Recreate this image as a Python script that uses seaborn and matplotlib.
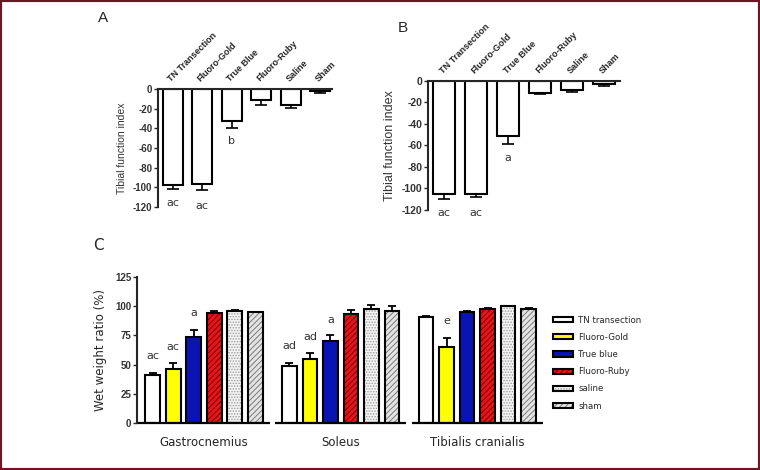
import numpy as np
import pandas as pd
import matplotlib
matplotlib.use("Agg")
import matplotlib.pyplot as plt
from matplotlib.patches import Rectangle, Patch
import seaborn as sns

# panels A and B: tibial function index
groups_ab = ["TN Transection", "Fluoro-Gold", "True Blue", "Fluoro-Ruby", "Saline", "Sham"]
tfi_a = [-98, -97, -33, -11, -16, -2]
tfi_a_err = [4, 6, 7, 5, 3, 2]
letters_a = ["ac", "ac", "b", "", "", ""]
letters_a_y = [-116, -119, -53, 0, 0, 0]

tfi_b = [-105, -105, -51, -11, -8, -3]
tfi_b_err = [5, 3, 8, 1, 2, 2]
letters_b = ["ac", "ac", "a", "", "", ""]
letters_b_y = [-123, -123, -72, 0, 0, 0]

# panel C: wet weight ratio
muscles = ["Gastrocnemius", "Soleus", "Tibialis cranialis"]
groups_c = ["TN transection", "Fluoro-Gold", "True blue", "Fluoro-Ruby", "saline", "sham"]
ratio_gastro = [41.5, 46.5, 74, 94.5, 95.5, 94.7]
ratio_gastro_err = [1, 4.5, 5.5, 1.3, 1.2, 0.5]
ratio_soleus = [49, 54.5, 70.5, 93.5, 97.5, 95.5]
ratio_soleus_err = [2, 5.5, 5, 3, 3.8, 4.3]
ratio_tibialis = [90.4, 64.7, 95, 97.6, 99.9, 97.9]
ratio_tibialis_err = [1.4, 8, 0.7, 0.5, 0.6, 0.8]
letters_c = [["ac", "ac", "a", "", "", ""],
             ["ad", "ad", "a", "", "", ""],
             ["", "e", "", "", "", ""]]
letters_c_y = [[57.5, 65, 94.5, 0, 0, 0],
               [66, 74, 88.5, 0, 0, 0],
               [0, 87.5, 0, 0, 0, 0]]

colors_c = ["white", "#ffff00", "#0a14b4", "#e8141b", "#f4f4f4", "#e4e4e4"]
hatches_c = [None, None, None, "//////", "......", "//////"]
hatch_colors_c = [None, None, None, "#7a0000", "#9a9a9a", "#7a7a7a"]

sns.set_theme(style="ticks")
plt.rcParams["font.family"] = ["Liberation Sans", "DejaVu Sans"]
plt.rcParams["hatch.linewidth"] = 0.7
plt.rcParams["axes.unicode_minus"] = False

fig = plt.figure(figsize=(7.6, 4.7), dpi=100)


def tfi_panel(ax, vals, errs, letters, letters_y, width, lab_size, tick_size, ylab_size):
    df = pd.DataFrame({"group": groups_ab, "tfi": vals})
    sns.barplot(data=df, x="group", y="tfi", color="white", edgecolor="black",
                linewidth=1.5, width=width, errorbar=None, ax=ax, saturation=1)
    xs = [p.get_x() + p.get_width() / 2 for p in ax.patches]
    ax.errorbar(xs, vals, yerr=[errs, [0] * len(errs)], fmt="none", ecolor="black",
                elinewidth=1.2, capsize=4, capthick=1.2)
    for x, t, y in zip(xs, letters, letters_y):
        if t:
            ax.text(x, y, t, ha="center", va="center", fontsize=8, family="DejaVu Sans",
                    color="#333333")
    ax.set_ylim(-120, 0)
    ax.set_yticks(np.arange(-120, 1, 20))
    ax.xaxis.tick_top()
    ax.tick_params(axis="x", length=0, pad=4)
    ax.tick_params(axis="y", length=3, width=1, labelsize=tick_size, pad=1)
    for lab in ax.get_yticklabels():
        lab.set_fontweight("bold")
        lab.set_color("#333333")
    ax.set_xticks(range(len(groups_ab)))
    ax.set_xticklabels(groups_ab, rotation=45, ha="left", rotation_mode="anchor",
                       fontsize=lab_size, fontweight="bold")
    ax.set_xlabel("")
    ax.set_ylabel("Tibial function index", fontsize=ylab_size, color="#333333", labelpad=4)
    for s in ["right", "bottom"]:
        ax.spines[s].set_visible(False)
    ax.spines["left"].set_linewidth(1.5)
    ax.spines["top"].set_linewidth(1.5)


ax_a = fig.add_axes([0.2079, 0.5596, 0.229, 0.251])
tfi_panel(ax_a, tfi_a, tfi_a_err, letters_a, letters_a_y, 0.68, 6.5, 7, 7.5)
ax_a.set_xlim(-0.5, 5.4)

ax_b = fig.add_axes([0.5632, 0.5532, 0.2526, 0.2745])
tfi_panel(ax_b, tfi_b, tfi_b_err, letters_b, letters_b_y, 0.69, 6.6, 7.5, 9)
ax_b.set_xlim(-0.5, 5.5)

# panel C
ax_c = fig.add_axes([0.1803, 0.1, 0.5395, 0.3106])
ratio_all = [ratio_gastro, ratio_soleus, ratio_tibialis]
err_all = [ratio_gastro_err, ratio_soleus_err, ratio_tibialis_err]
rows = []
for m, vals in zip(muscles, ratio_all):
    for g, v in zip(groups_c, vals):
        rows.append({"muscle": m, "group": g, "ratio": v})
df_c = pd.DataFrame(rows)
sns.barplot(data=df_c, x="muscle", y="ratio", hue="group", hue_order=groups_c,
            palette=colors_c, width=0.9, gap=0.28, edgecolor="black", linewidth=1.5,
            errorbar=None, legend=False, saturation=1, ax=ax_c)

bars = sorted([p for p in ax_c.patches if p.get_height() > 0], key=lambda p: p.get_x())
for i, p in enumerate(bars):
    k = i % 6
    if hatches_c[k]:
        p.set_hatch(hatches_c[k])
        p.set_edgecolor(hatch_colors_c[k])
        p.set_linewidth(0)
        ax_c.add_patch(Rectangle((p.get_x(), 0), p.get_width(), p.get_height(),
                                 fill=False, edgecolor="black", linewidth=1.5, zorder=p.get_zorder() + 0.1))
bx = np.array([p.get_x() + p.get_width() / 2 for p in bars])
vals_flat = np.concatenate(ratio_all)
errs_flat = np.concatenate(err_all)
ax_c.errorbar(bx, vals_flat, yerr=[np.zeros_like(errs_flat), errs_flat], fmt="none",
              ecolor="black", elinewidth=1.3, capsize=3, capthick=1.3)
for i, (t, y) in enumerate(zip(sum(letters_c, []), sum(letters_c_y, []))):
    if t:
        ax_c.text(bx[i], y, t, ha="center", va="center", fontsize=8,
                  family="DejaVu Sans", color="#333333")

ax_c.set_xlim(-0.49, 2.51)
ax_c.set_ylim(0, 125)
ax_c.set_yticks(np.arange(0, 126, 25))
ax_c.tick_params(axis="x", length=0, pad=9, labelsize=8.5)
ax_c.tick_params(axis="y", length=3, width=1, labelsize=7, pad=1)
for lab in ax_c.get_xticklabels():
    lab.set_family("DejaVu Sans")
for lab in ax_c.get_yticklabels():
    lab.set_fontweight("bold")
    lab.set_color("#333333")
ax_c.set_xlabel("")
ax_c.set_ylabel("Wet weight ratio (%)", fontsize=8.5, family="DejaVu Sans", labelpad=6)
for s in ["right", "top", "bottom"]:
    ax_c.spines[s].set_visible(False)
ax_c.spines["left"].set_linewidth(1.5)
# broken baseline under each muscle group
for i in range(len(muscles)):
    ax_c.plot([i - 0.48, i + 0.48], [0, 0], color="black", lw=1.6, clip_on=False,
              solid_capstyle="butt")

handles = []
for c, h, hc in zip(colors_c, hatches_c, hatch_colors_c):
    if h:
        handles.append((Patch(facecolor=c, hatch=h, edgecolor=hc, linewidth=0),
                        Patch(facecolor="none", edgecolor="black", linewidth=1.5)))
    else:
        handles.append(Patch(facecolor=c, edgecolor="black", linewidth=1.5))
fig.legend(handles, groups_c, loc="upper left", bbox_to_anchor=(0.718, 0.345),
           frameon=False, handlelength=2.3, handleheight=0.55,
           labelspacing=0.95, handletextpad=0.6, prop={"family": "DejaVu Sans", "size": 6.2})

fig.text(0.136, 0.962, "A", fontsize=11, ha="center", va="center")
fig.text(0.530, 0.940, "B", fontsize=11, ha="center", va="center")
fig.text(0.130, 0.477, "C", fontsize=11, ha="center", va="center", family="DejaVu Sans")

fig.patches.append(Rectangle((0, 0), 1, 1, transform=fig.transFigure, fill=False,
                             edgecolor="#6e1423", linewidth=3))

fig.savefig("out.png", dpi=100)
